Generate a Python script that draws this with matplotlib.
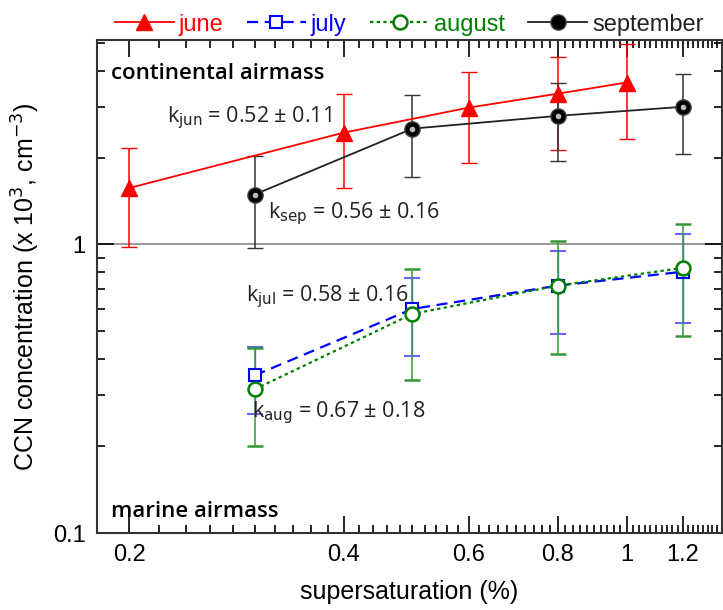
import numpy as np
import matplotlib
matplotlib.use("Agg")
import matplotlib.pyplot as plt
from matplotlib.lines import Line2D
from matplotlib.ticker import FixedLocator, NullFormatter

plt.rcParams['font.family'] = ['Open Sans', 'DejaVu Sans']

# supersaturation (%) and CCN (x10^3 cm^-3)
x_jun = [0.2, 0.4, 0.6, 0.8, 1.0]
y_jun = [1.57, 2.44, 2.98, 3.33, 3.64]
lo_jun = [0.98, 1.57, 1.92, 2.13, 2.32]
hi_jun = [2.16, 3.33, 3.97, 4.48, 4.94]

x_jul = [0.3, 0.5, 0.8, 1.2]
y_jul = [0.352, 0.598, 0.72, 0.805]
lo_jul = [0.258, 0.41, 0.49, 0.535]
hi_jul = [0.441, 0.768, 0.953, 1.09]

x_aug = [0.3, 0.5, 0.8, 1.2]
y_aug = [0.315, 0.575, 0.72, 0.83]
lo_aug = [0.20, 0.339, 0.417, 0.482]
hi_aug = [0.438, 0.825, 1.03, 1.18]

x_sep = [0.3, 0.5, 0.8, 1.2]
y_sep = [1.49, 2.52, 2.79, 3.0]
lo_sep = [0.97, 1.71, 1.95, 2.06]
hi_sep = [2.03, 3.30, 3.64, 3.91]


def err(y, lo, hi):
    y = np.array(y)
    return [y - np.array(lo), np.array(hi) - y]


fig = plt.figure(figsize=(7.23, 6.10), dpi=100)
ax = fig.add_axes([0.134, 0.126, 0.864, 0.808])
ax.set_xscale('log')
ax.set_yscale('log')

ax.axhline(1, color='#888888', lw=1.2, zorder=1)

jun_style = dict(color='red', lw=1.3, marker='^', ms=11, mfc='red', mec='red')
sep_style = dict(color='#222222', lw=1.3, marker='o', ms=11, mfc='black', mec='#444444')
jul_style = dict(color='blue', lw=1.6, ls=(0, (5, 3)), marker='s', ms=9,
                 mfc='white', mec='blue', mew=1.5)
aug_style = dict(color='green', lw=1.6, ls=(0, (1.5, 1.5)), marker='o', ms=10,
                 mfc='white', mec='green', mew=1.8)

ax.errorbar(x_jun, y_jun, yerr=err(y_jun, lo_jun, hi_jun), ecolor='red',
            elinewidth=1.1, capsize=6, zorder=3, **jun_style)
ax.errorbar(x_sep, y_sep, yerr=err(y_sep, lo_sep, hi_sep), ecolor='#333333',
            elinewidth=1.1, capsize=6, zorder=3, **sep_style)
ax.plot(x_sep, y_sep, 'o', ms=3, color='#bbbbbb', zorder=4)  # highlight on spheres
ax.errorbar(x_jul, y_jul, yerr=err(y_jul, lo_jul, hi_jul), ecolor='#6666ff',
            elinewidth=1.0, capsize=6, zorder=3, **jul_style)
ax.errorbar(x_aug, y_aug, yerr=err(y_aug, lo_aug, hi_aug), ecolor='#339933',
            elinewidth=1.1, capsize=6, zorder=3, **aug_style)

ax.set_xlim(0.18, 1.36)
ax.set_ylim(0.1, 5.1)

ax.xaxis.set_major_locator(FixedLocator([0.2, 0.4, 0.6, 0.8, 1.0, 1.2]))
ax.set_xticklabels(['0.2', '0.4', '0.6', '0.8', '1', '1.2'])
ax.xaxis.set_minor_locator(FixedLocator(np.arange(0.18, 1.37, 0.02)))
ax.xaxis.set_minor_formatter(NullFormatter())

ax.yaxis.set_major_locator(FixedLocator([0.1, 1]))
ax.set_yticklabels(['0.1', '1'])
ax.yaxis.set_minor_locator(FixedLocator([0.2, 0.3, 0.4, 0.5, 0.6, 0.7, 0.8, 0.9, 2, 3, 4, 5]))
ax.yaxis.set_minor_formatter(NullFormatter())

ax.tick_params(which='both', direction='in', top=True, right=True, width=1.2)
ax.tick_params(which='major', length=12, labelsize=17, pad=8)
ax.tick_params(which='minor', length=6)
for lab in ax.get_xticklabels() + ax.get_yticklabels():
    lab.set_family(['Liberation Sans', 'DejaVu Sans'])
for s in ax.spines.values():
    s.set_linewidth(1.5)
    s.set_color('#333333')

ax.set_xlabel('supersaturation (%)', fontsize=18, family=['Liberation Sans'], labelpad=10)
ax.set_ylabel('CCN concentration (x 10$^3$, cm$^{-3}$)', fontsize=18,
              family=['Liberation Sans'], labelpad=8)

ax.text(0.1885, 3.91, 'continental airmass', fontsize=16, fontweight='semibold', va='center')
ax.text(0.1885, 0.119, 'marine airmass', fontsize=16, fontweight='semibold', va='center')
kfont = dict(fontsize=15.5, color='#222222', va='center')
ax.text(0.226, 2.75, r'k$_{\mathrm{jun}}$ = 0.52 ± 0.11', **kfont)
ax.text(0.313, 1.28, r'k$_{\mathrm{sep}}$ = 0.56 ± 0.16', **kfont)
ax.text(0.292, 0.66, r'k$_{\mathrm{jul}}$ = 0.58 ± 0.16', **kfont)
ax.text(0.297, 0.262, r'k$_{\mathrm{aug}}$ = 0.67 ± 0.18', **kfont)

handles = [Line2D([], [], **jun_style), Line2D([], [], **jul_style),
           Line2D([], [], **aug_style), Line2D([], [], **sep_style)]
labels = ['june', 'july', 'august', 'september']
leg = ax.legend(handles, labels, loc='lower center', bbox_to_anchor=(0.5, 1.0), ncol=4,
                frameon=False, prop={'family': 'Liberation Sans', 'size': 17},
                handlelength=2.5, handletextpad=0.2, columnspacing=1.0,
                borderaxespad=0.1, borderpad=0.1)
for t, c in zip(leg.get_texts(), ['red', 'blue', 'green', '#222222']):
    t.set_color(c)

fig.savefig('out.png', dpi=100)
